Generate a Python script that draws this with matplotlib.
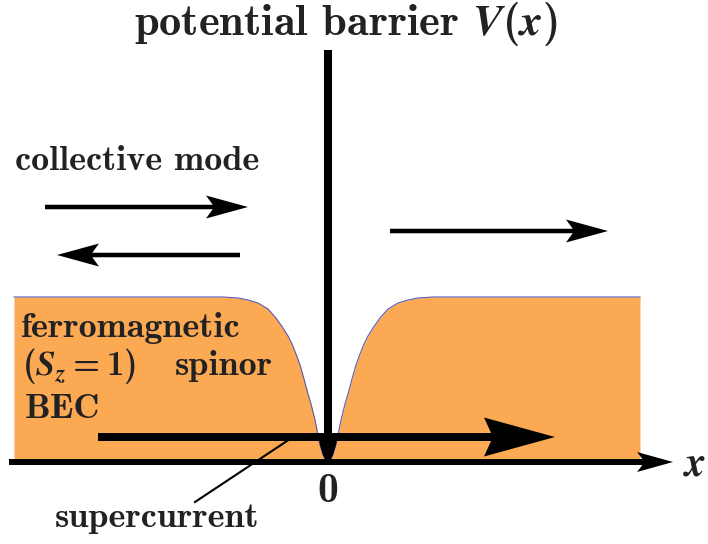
import matplotlib.pyplot as plt

plt.rcParams['mathtext.fontset'] = 'cm'
plt.rcParams['mathtext.bf'] = 'cmb10'
plt.rcParams['mathtext.bfit'] = 'STIXGeneral:italic:bold'
plt.rcParams['mathtext.rm'] = 'cmb10'

# === condensate density profile, barrier at x=0 ===
prof_x = [-3.14, -1.05, -0.90, -0.80, -0.70, -0.60, -0.52, -0.45, -0.40, -0.36,
          -0.32, -0.28, -0.24, -0.20, -0.17, -0.13, -0.10, -0.08, -0.05, -0.03,
          0.00,
          0.03, 0.05, 0.08, 0.10, 0.13, 0.17, 0.20, 0.24, 0.28, 0.32,
          0.36, 0.40, 0.45, 0.52, 0.60, 0.70, 0.80, 0.90, 1.05, 3.12]
prof_y = [1.65, 1.65, 1.64, 1.62, 1.59, 1.53, 1.44, 1.34, 1.26, 1.18,
          1.08, 0.97, 0.83, 0.68, 0.58, 0.42, 0.27, 0.17, 0.07, 0.03,
          0.00,
          0.03, 0.07, 0.17, 0.27, 0.42, 0.58, 0.68, 0.83, 0.97, 1.08,
          1.18, 1.26, 1.34, 1.44, 1.53, 1.59, 1.62, 1.64, 1.65, 1.65]

# barrier: thin wall at x=0, top height, and the filled tip of the dip
barrier_top = 4.12
barrier_base = 0.25
dip_x = [-0.10, -0.08, -0.05, -0.03, 0.00, 0.03, 0.05, 0.08, 0.10]
dip_y = [0.27, 0.17, 0.07, 0.03, 0.00, 0.03, 0.07, 0.17, 0.27]

# arrows: (x start, x end, y)
axis_arrow = (-3.19, 3.45, 0.0)
mode_arrows = [(-2.83, -0.80, 2.55), (-0.88, -2.71, 2.07), (0.62, 2.80, 2.31)]
current_arrow = (-2.30, 2.27, 0.25)
pointer_x = [-1.33, -0.38]
pointer_y = [-0.40, 0.23]

orange = '#FCA954'
ink = '#222222'

fig = plt.figure(figsize=(7.08, 5.44), dpi=100)
ax = fig.add_axes([0, 0, 1, 1])
ax.set_xlim(-3.28, 3.80)
ax.set_ylim(-0.82, 4.62)
ax.axis('off')

# BEC density
ax.fill_between(prof_x, prof_y, 0, color=orange, lw=0, zorder=1)
ax.plot(prof_x, prof_y, color='#5a5ab0', lw=0.8, zorder=2)

# barrier
ax.plot([0, 0], [barrier_base, barrier_top], color='k', lw=5.8,
        solid_capstyle='butt', zorder=3)
ax.fill(dip_x, dip_y, color='k', lw=0, zorder=3)

# x axis
x0, x1, y = axis_arrow
ax.arrow(x0, y, x1 - x0, 0, width=0.06, head_width=0.2, head_length=0.36,
         overhang=0.15, length_includes_head=True, color='k', lw=0, zorder=4)

# collective mode arrows
for x0, x1, y in mode_arrows:
    ax.arrow(x0, y, x1 - x0, 0, width=0.045, head_width=0.23, head_length=0.42,
             overhang=0.16, length_includes_head=True, color='k', lw=0, zorder=4)

# supercurrent
x0, x1, y = current_arrow
ax.arrow(x0, y, x1 - x0, 0, width=0.08, head_width=0.39, head_length=0.71,
         overhang=0.1, length_includes_head=True, color='k', lw=0, zorder=4)
ax.plot(pointer_x, pointer_y, color='k', lw=1.5, zorder=4)

# labels
bold = dict(family='cmb10', color=ink)
ax.text(0.18, 4.27, r'potential barrier $\mathbfit{V}\mathbf{(}\mathbfit{x}\mathbf{)}$',
        ha='center', va='baseline', fontsize=32, math_fontfamily='custom', **bold)
ax.text(-3.13, 2.92, 'collective mode', ha='left', va='baseline', fontsize=26, **bold)
ax.text(-3.08, 1.25, 'ferromagnetic', ha='left', va='baseline', fontsize=26, **bold)
ax.text(-3.06, 0.87, r'$\mathbf{(}\mathbfit{S}_{\mathbfit{z}}\mathbf{=1)}$',
        ha='left', va='baseline', fontsize=25, math_fontfamily='custom', **bold)
ax.text(-1.53, 0.87, 'spinor', ha='left', va='baseline', fontsize=26, **bold)
ax.text(-3.03, 0.44, 'BEC', ha='left', va='baseline', fontsize=26, **bold)
ax.text(0.0, -0.40, '0', ha='center', va='baseline', fontsize=30, **bold)
ax.text(-2.73, -0.65, 'supercurrent', ha='left', va='baseline', fontsize=26, **bold)
ax.text(3.55, -0.13, r'$\mathbfit{x}$', ha='left', va='baseline', fontsize=30,
        math_fontfamily='custom', color=ink)

fig.savefig('out.png', dpi=100)
